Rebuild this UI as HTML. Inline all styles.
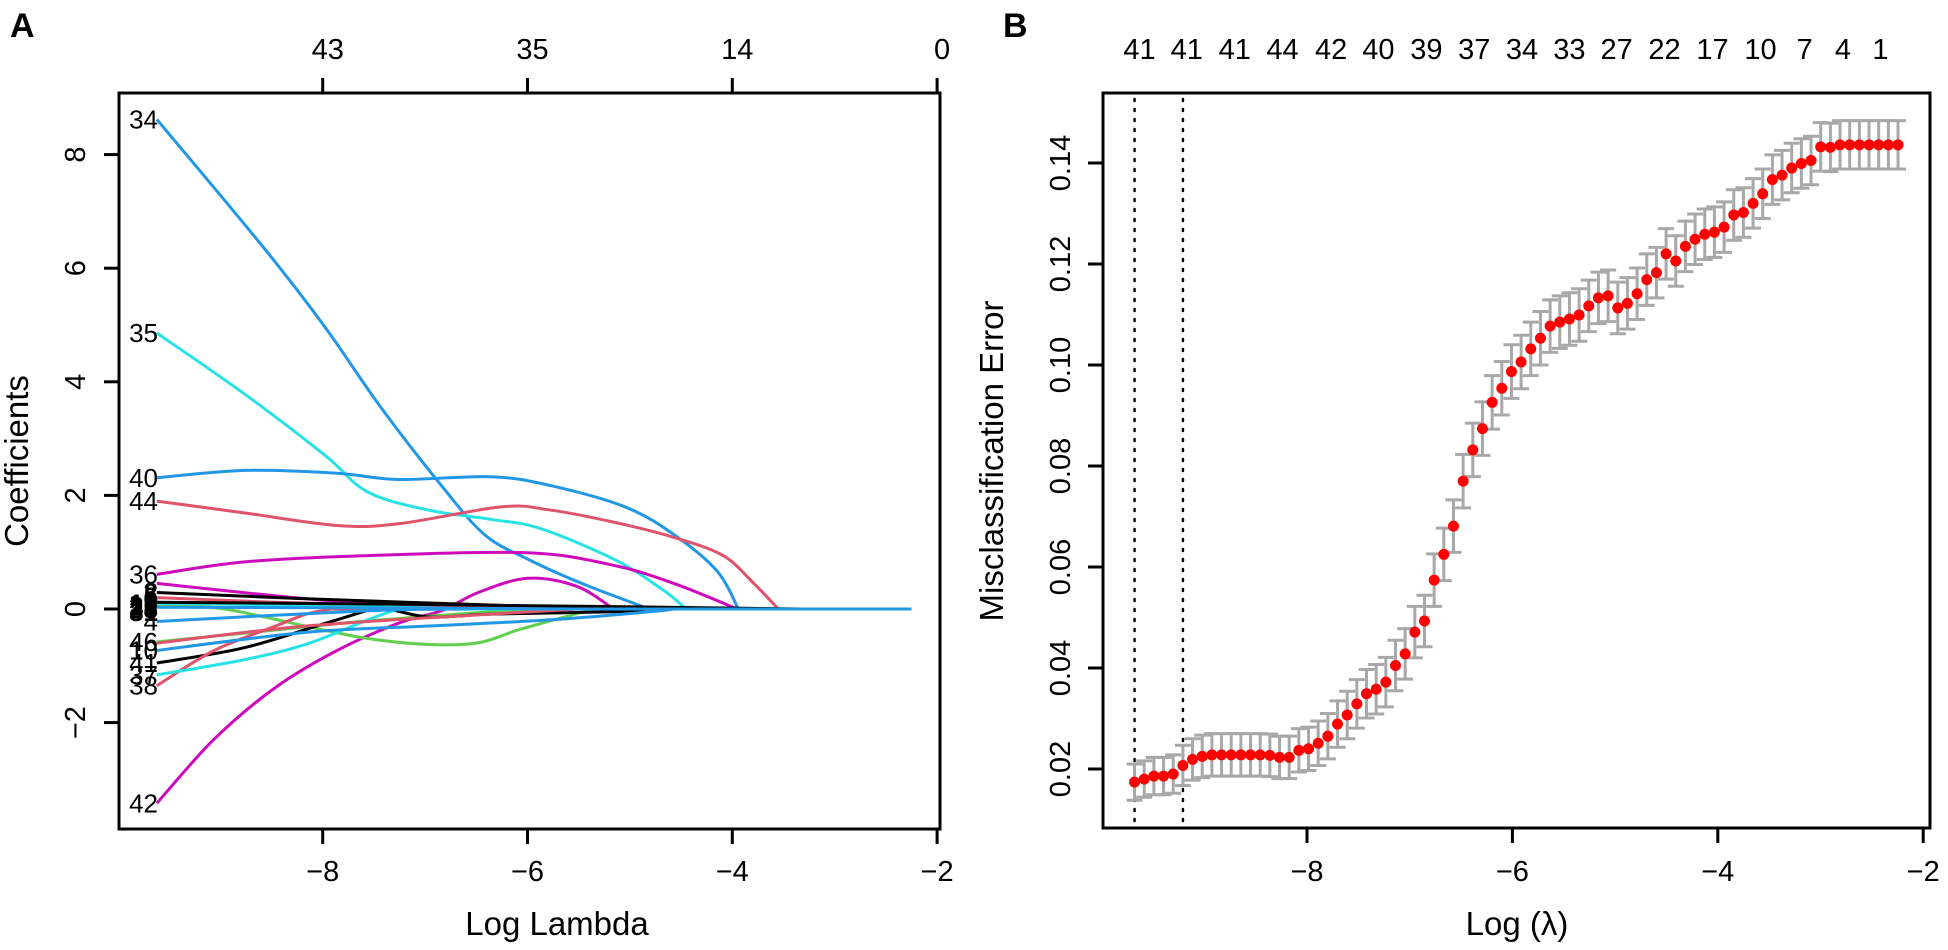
<!DOCTYPE html>
<html><head><meta charset="utf-8">
<style>
html,body{margin:0;padding:0;background:#fff;}
svg{display:block;font-family:"Liberation Sans",Arial,sans-serif;}
</style></head>
<body>
<svg id="fig" width="1948" height="950" viewBox="0 0 1948 950" xmlns="http://www.w3.org/2000/svg">
<g id="panelA"></g>
<g id="panelB"></g>
</svg>
<script>
// ---------- Panel A data ----------
const aXTicks = [-8, -6, -4, -2];
const aYTicks = [-2, 0, 2, 4, 6, 8];
const aTopLabels = ["43", "35", "14", "0"];
const aEndX = -2.25;
const aColors = ["#000000","#DF536B","#61D04F","#2297E6","#28E2E5","#CD0BBC"];
const path34x = [-9.62,-8.58,-7.98,-7.44,-6.84,-6.42,-6.0,-5.47,-4.93,-4.81];
const path34y = [8.62,6.37,4.97,3.57,2.17,1.31,0.88,0.45,0.08,0];
const path35x = [-9.62,-8.76,-7.98,-7.56,-6.96,-6.36,-5.88,-5.16,-4.68,-4.45];
const path35y = [4.86,3.78,2.71,2.06,1.74,1.58,1.42,0.88,0.34,0];
const path40x = [-9.62,-8.76,-7.86,-7.26,-6.36,-5.77,-5.05,-4.57,-4.15,-3.94];
const path40y = [2.31,2.44,2.39,2.28,2.33,2.17,1.80,1.31,0.67,0];
const path44x = [-9.62,-8.76,-7.86,-7.26,-6.25,-5.77,-5.16,-4.57,-4.09,-3.79,-3.55];
const path44y = [1.90,1.69,1.47,1.50,1.80,1.74,1.53,1.26,0.94,0.45,0];
const path36x = [-9.62,-8.76,-7.56,-6.0,-5.16,-4.57,-3.95];
const path36y = [0.61,0.83,0.94,0.99,0.77,0.45,0];
const path42x = [-9.62,-9.06,-8.46,-7.86,-7.26,-6.84,-6.48,-6.0,-5.52,-5.16];
const path42y = [-3.42,-2.29,-1.38,-0.73,-0.25,-0.03,0.29,0.54,0.40,0];
const pathM2x = [-9.62,-8.16,-7.26,-6.96];
const pathM2y = [0.45,0.18,0.07,0];
const pathG1x = [-9.62,-8.96,-7.56,-6.6,-6.06,-5.4,-5.2];
const pathG1y = [0.05,0.0,-0.52,-0.62,-0.35,-0.03,0];
const pathG2x = [-9.62,-8.46,-7.56,-6.36,-5.8];
const pathG2y = [-0.58,-0.37,-0.21,-0.05,0];
const path41x = [-9.62,-8.76,-7.86,-7.44,-6.96,-6.36,-5.16,-4.6];
const path41y = [-0.95,-0.68,-0.19,0.0,-0.14,-0.09,-0.05,0];
const path38x = [-9.62,-9.06,-8.46,-8.16,-7.92];
const path38y = [-1.35,-0.73,-0.30,-0.09,0];
const pathC2x = [-9.62,-8.76,-8.16,-7.56,-7.26];
const pathC2y = [-1.16,-0.89,-0.62,-0.19,0];
const path10x = [-9.62,-8.16,-6.96,-5.77,-4.81,-4.57];
const path10y = [-0.73,-0.41,-0.30,-0.19,-0.05,0];
const path46x = [-9.62,-8.16,-6.36,-5.5];
const path46y = [-0.60,-0.30,-0.09,0];
const path4x = [-9.62,-7.56,-6.5];
const path4y = [-0.22,-0.03,0];
const pathK1x = [-9.62,-8.16,-6.0,-5.0];
const pathK1y = [0.29,0.18,0.05,0];
const pathR3x = [-9.62,-8.46,-6.96,-5.6];
const pathR3y = [0.20,0.12,0.05,0];
const pathC3x = [-9.62,-8.0,-6.5];
const pathC3y = [0.10,0.06,0];
const pathK2x = [-9.62,-7.0,-3.3];
const pathK2y = [0.12,0.08,0];
const pathB3x = [-9.62,-7.5,-5.5];
const pathB3y = [0.03,0.02,0];
const aPaths = [
 ["34",3,path34x,path34y],["35",4,path35x,path35y],["40",3,path40x,path40y],["44",1,path44x,path44y],
 ["36",5,path36x,path36y],["42",5,path42x,path42y],["",5,pathM2x,pathM2y],["",2,pathG1x,pathG1y],
 ["46",2,pathG2x,pathG2y],["41",0,path41x,path41y],["38",1,path38x,path38y],["37",4,pathC2x,pathC2y],
 ["10",3,path10x,path10y],["",1,path46x,path46y],["4",3,path4x,path4y],["",0,pathK1x,pathK1y],
 ["",1,pathR3x,pathR3y],["",4,pathC3x,pathC3y],["",0,pathK2x,pathK2y],["",3,pathB3x,pathB3y]
];
const aClusterLabels = ["2","5","9","12","20","28","31"];
const aClusterVals = [0.30,0.22,0.15,0.10,0.05,0.0,-0.05];

// ---------- Panel B data ----------
const bStart = -9.679, bStep = 0.0941;
const bErr = [0.0174,0.018,0.0186,0.0186,0.019,0.0207,0.0219,0.0225,0.0228,0.0228,
0.0228,0.0228,0.0228,0.0228,0.0227,0.0223,0.0223,0.0237,0.024,0.0251,
0.0265,0.0289,0.0307,0.0329,0.0349,0.0358,0.0372,0.0405,0.0428,0.0471,
0.0493,0.0574,0.0625,0.0681,0.077,0.0832,0.0874,0.0926,0.0954,0.0987,
0.1006,0.1032,0.1053,0.1077,0.1085,0.1091,0.1099,0.1117,0.1133,0.1137,
0.1113,0.1122,0.1141,0.1169,0.1183,0.122,0.1206,0.1235,0.1249,0.1259,
0.1263,0.1273,0.1297,0.1302,0.132,0.1339,0.1367,0.1376,0.139,0.1399,
0.1405,0.1432,0.1431,0.1436,0.1436,0.1436,0.1436,0.1436,0.1436,0.1436];
const bSE = [0.0036,0.0036,0.0037,0.0037,0.0038,0.0040,0.0041,0.0042,0.0042,0.0042,
0.0042,0.0042,0.0042,0.0042,0.0042,0.0042,0.0042,0.0043,0.0043,0.0044,
0.0045,0.0046,0.0047,0.0048,0.0048,0.0049,0.0049,0.0050,0.0050,0.0051,
0.0051,0.0052,0.0052,0.0052,0.0053,0.0053,0.0053,0.0053,0.0053,0.0053,
0.0053,0.0053,0.0053,0.0052,0.0052,0.0052,0.0052,0.0051,0.0051,0.0051,
0.0051,0.0051,0.0051,0.0051,0.0050,0.0050,0.0050,0.0050,0.0050,0.0050,
0.0050,0.0050,0.0050,0.0049,0.0049,0.0049,0.0049,0.0049,0.0049,0.0049,
0.0048,0.0048,0.0048,0.0048,0.0048,0.0048,0.0048,0.0048,0.0048,0.0048];
const bXTicks = [-8, -6, -4, -2];
const bYTicks = [0.02, 0.04, 0.06, 0.08, 0.10, 0.12, 0.14];
const bYTickLabels = ["0.02","0.04","0.06","0.08","0.10","0.12","0.14"];
const bTopLabels = ["41","41","41","44","42","40","39","37","34","33","27","22","17","10","7","4","1"];
const bTopPos = [-9.631,-9.171,-8.704,-8.238,-7.765,-7.305,-6.838,-6.372,-5.906,-5.445,-4.985,-4.519,-4.052,-3.584,-3.154,-2.781,-2.416];
const bLambdaMin = -9.679, bLambda1se = -9.208;

// ---------- helpers ----------
const NS = "http://www.w3.org/2000/svg";
function mk(parent, tag, attrs, text){
  const e = document.createElementNS(NS, tag);
  for (const k in attrs) e.setAttribute(k, attrs[k]);
  if (text !== undefined) e.textContent = text;
  parent.appendChild(e);
  return e;
}
function smooth(pts){
  let d = "M" + pts[0][0].toFixed(1) + "," + pts[0][1].toFixed(1);
  for (let i=0;i<pts.length-1;i++){
    const p0 = pts[Math.max(0,i-1)], p1 = pts[i], p2 = pts[i+1], p3 = pts[Math.min(pts.length-1,i+2)];
    const c1x = p1[0]+(p2[0]-p0[0])/6, c1y = p1[1]+(p2[1]-p0[1])/6;
    const c2x = p2[0]-(p3[0]-p1[0])/6, c2y = p2[1]-(p3[1]-p1[1])/6;
    d += " C"+c1x.toFixed(1)+","+c1y.toFixed(1)+" "+c2x.toFixed(1)+","+c2y.toFixed(1)+" "+p2[0].toFixed(1)+","+p2[1].toFixed(1);
  }
  return d;
}

// ---------- Panel A ----------
(function(){
  const g = document.getElementById("panelA");
  const L=119,R=940,T=93,B=829;
  const xs = v => 322.7 + (v + 8) * 102.4;
  const ys = v => 609 - v * 56.8;
  let t;
  t = mk(g,"text",{x:10,y:37,"font-size":34,"font-weight":"bold"},"A");
  
  
  const lines = mk(g,"g",{});
  
  
  aPaths.forEach(p => {
    const pts = p[2].map((x,i)=>[xs(x), ys(p[3][i])]);
    const last = pts[pts.length-1];
    let d = smooth(pts) + " L" + xs(aEndX).toFixed(1) + "," + last[1].toFixed(1);
    const e = mk(lines,"path",{d:d,fill:"none",stroke:aColors[p[1]],"stroke-width":3});
    
    
  });
  aPaths.forEach(p => {
    if (!p[0]) return;
    const e = mk(g,"text",{x:158,y:ys(p[3][0])+9,"font-size":26,"text-anchor":"end"},p[0]);
    
    
  });
  aClusterLabels.forEach((lab,i) => {
    const e = mk(g,"text",{x:158,y:ys(aClusterVals[i])+9,"font-size":26,"text-anchor":"end","font-weight":"bold"},lab);
    
    
  });
  const box = mk(g,"rect",{x:L,y:T,width:R-L,height:B-T,fill:"none",stroke:"#000","stroke-width":3});
  
  
  aXTicks.forEach((v,i) => {
    const x = xs(v);
    let e = mk(g,"line",{x1:x,x2:x,y1:B,y2:B+15,stroke:"#000","stroke-width":3});
    
    
    e = mk(g,"text",{x:x,y:881,"font-size":29,"text-anchor":"middle"},String(v).replace("-","\u2212"));
    
    
    e = mk(g,"line",{x1:x,x2:x,y1:T,y2:T-15,stroke:"#000","stroke-width":3});
    
    
    e = mk(g,"text",{x:x+5,y:59,"font-size":29,"text-anchor":"middle"},aTopLabels[i]);
    
    
  });
  aYTicks.forEach(v => {
    const y = ys(v);
    let e = mk(g,"line",{x1:L,x2:L-15,y1:y,y2:y,stroke:"#000","stroke-width":3});
    
    
    e = mk(g,"text",{x:0,y:0,"font-size":29,"text-anchor":"middle",transform:"translate(85,"+y+") rotate(-90)"},String(v).replace("-","\u2212"));
    
    
  });
  t = mk(g,"text",{x:0,y:0,"font-size":33,"text-anchor":"middle",transform:"translate(28,461) rotate(-90)"},"Coefficients");
  
  
  t = mk(g,"text",{x:557,y:935,"font-size":33,"text-anchor":"middle"},"Log Lambda");
  
  
})();

// ---------- Panel B ----------
(function(){
  const g = document.getElementById("panelB");
  const L=1103,R=1930,T=93,B=828;
  const xs = v => 1307 + (v + 8) * 102.7;
  const ys = v => 870 - v * 5050;
  let t;
  t = mk(g,"text",{x:1003,y:37,"font-size":34,"font-weight":"bold"},"B");
  
  
  [bLambdaMin,bLambda1se].forEach((v,i) => {
    const x = xs(v);
    const e = mk(g,"line",{x1:x,x2:x,y1:T+6,y2:B-6,stroke:"#000","stroke-width":2.5,"stroke-dasharray":"2,8","stroke-linecap":"round"});
    
    
  });
  const eg = mk(g,"g",{});
  
  
  bErr.forEach((v,i) => {
    const x = xs(bStart + i*bStep);
    const y1 = ys(v + bSE[i]), y2 = ys(v - bSE[i]);
    const e = mk(eg,"path",{d:"M"+x+","+y1+"V"+y2+"M"+(x-8)+","+y1+"H"+(x+8)+"M"+(x-8)+","+y2+"H"+(x+8),stroke:"#A8A8A8","stroke-width":3,fill:"none"});
    
    
  });
  const dg = mk(g,"g",{});
  
  
  bErr.forEach((v,i) => {
    const e = mk(dg,"circle",{cx:xs(bStart + i*bStep),cy:ys(v),r:5.5,fill:"#FF0000"});
    
    
  });
  const box = mk(g,"rect",{x:L,y:T,width:R-L,height:B-T,fill:"none",stroke:"#000","stroke-width":3});
  
  
  bXTicks.forEach(v => {
    const x = xs(v);
    let e = mk(g,"line",{x1:x,x2:x,y1:B,y2:B+15,stroke:"#000","stroke-width":3});
    
    
    e = mk(g,"text",{x:x,y:881,"font-size":29,"text-anchor":"middle"},String(v).replace("-","\u2212"));
    
    
  });
  bTopLabels.forEach((lab,i) => {
    const e = mk(g,"text",{x:xs(bTopPos[i]),y:59,"font-size":29,"text-anchor":"middle"},lab);
    
    
  });
  bYTicks.forEach((v,i) => {
    const y = ys(v);
    let e = mk(g,"line",{x1:L,x2:L-15,y1:y,y2:y,stroke:"#000","stroke-width":3});
    
    
    e = mk(g,"text",{x:0,y:0,"font-size":29,"text-anchor":"middle",transform:"translate(1070,"+y+") rotate(-90)"},bYTickLabels[i]);
    
    
  });
  t = mk(g,"text",{x:0,y:0,"font-size":33,"text-anchor":"middle",transform:"translate(1003,461) rotate(-90)"},"Misclassification Error");
  
  
  t = mk(g,"text",{x:1517,y:935,"font-size":33,"text-anchor":"middle"},"Log (\u03bb)");
  
  
})();
</script>
</body></html>
